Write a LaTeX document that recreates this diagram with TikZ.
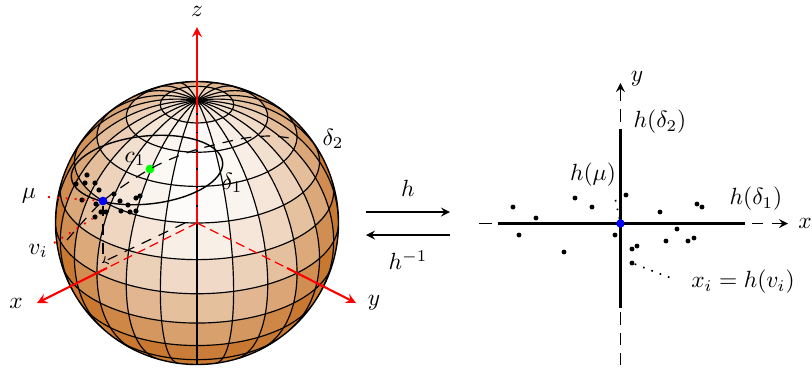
\documentclass[tikz,border=0pt]{standalone}
\definecolor{ballorange}{RGB}{200,120,48}
\definecolor{ptgreen}{RGB}{0,255,0}
\definecolor{ptblue}{RGB}{0,0,255}
\begin{document}
\begin{tikzpicture}[x=0.015cm, y=0.015cm, >=stealth,
          declare function={
            Rs=141.5;
            sx(\a,\l)=Rs*cos(\l)*sin(\a);
            sy(\a,\l)=Rs*(sin(\l)*cos(30)-cos(\l)*cos(\a)*sin(30));
            vis(\a,\l)=cos(\l)*cos(\a)*cos(30)+sin(\l)*sin(30);
            lit(\a,\l)=sin(\l)*sin(50)+cos(\l)*cos(min(180,1.25*abs(\a)))*cos(50);
          },
          grid/.style={black, line width=0.5pt},
          axhid/.style={red, line width=0.8pt, dash pattern=on 7pt off 0.8pt},
          axhidb/.style={red, line width=0.5pt, dash pattern=on 4pt off 2.2pt},
          axsol/.style={->, red, line width=0.9pt},
          geo/.style={black, line width=0.5pt, dash pattern=on 4.5pt off 3.5pt},
          reddots/.style={red, line width=0.8pt, dash pattern=on 0.8pt off 3pt},
          blackdots/.style={black, line width=0.7pt, dash pattern=on 0.7pt off 3.1pt},
          vpt/.style={circle, fill=black, inner sep=0pt, minimum size=2.2pt},
          mpt/.style={circle, fill=ptblue, inner sep=0pt, minimum size=3.6pt},
          cpt/.style={circle, fill=ptgreen, inner sep=0pt, minimum size=3.8pt},
          xpt/.style={circle, fill=black, inner sep=0pt, minimum size=2.1pt},
          planeax/.style={black, line width=0.7pt},
          planesol/.style={black, line width=1pt},
          map/.style={->, line width=0.7pt}]
  \useasboundingbox (-197,-147) rectangle (615,223);
  % ball
  \fill[ballorange] (0,0) circle (Rs);
  \begin{scope}
    \clip (0,0) circle (Rs);
    \foreach \pass in {0,1}
    \foreach \la in {-90,-75,...,75}
    \foreach \az in {-180,-165,...,165} {
      \pgfmathsetmacro\ac{\az+7.5}
      \pgfmathsetmacro\ab{\az+15}
      \pgfmathsetmacro\lc{\la+7.5}
      \pgfmathsetmacro\lb{\la+15}
      \pgfmathsetmacro\vv{vis(\ac,\lc)}
      \pgfmathtruncatemacro\show{(\pass==1 && \vv>=0) || (\pass==0 && \vv<0 && \vv>-0.3) ? 1 : 0}
      \ifnum\show=1
        \pgfmathsetmacro\amt{max(0,min(100,100*(1-lit(\ac,\lc))))}
        \fill[ballorange!\amt!white]
          ({sx(\az,\la)},{sy(\az,\la)}) -- ({sx(\ac,\la)},{sy(\ac,\la)}) -- ({sx(\ab,\la)},{sy(\ab,\la)})
          -- ({sx(\ab,\lc)},{sy(\ab,\lc)}) -- ({sx(\ab,\lb)},{sy(\ab,\lb)}) -- ({sx(\ac,\lb)},{sy(\ac,\lb)})
          -- ({sx(\az,\lb)},{sy(\az,\lb)}) -- ({sx(\az,\lc)},{sy(\az,\lc)}) -- cycle;
      \fi
    }
    % meridians
    \foreach \az in {-180,-165,...,165} {
      \pgfmathsetmacro\lmin{atan(-cos(\az)*cos(30)/sin(30))}
      \draw[grid] plot[domain=\lmin:90, samples=30, smooth] ({sx(\az,\x)},{sy(\az,\x)});
    }
    % parallels
    \foreach \la in {-45,-30,...,45} {
      \pgfmathsetmacro\dmax{acos(-tan(\la)*tan(30))}
      \draw[grid] plot[domain=-\dmax:\dmax, samples=60, smooth] ({sx(\x,\la)},{sy(\x,\la)});
    }
    \foreach \la in {60,75}
      \draw[grid] plot[domain=-180:180, samples=60, smooth] ({sx(\x,\la)},{sy(\x,\la)});
  \end{scope}
  \draw[black, line width=0.6pt] (0,0) circle (Rs);
  % axes of the ball
  \coordinate (O) at (0,0);
  \coordinate (Np) at (0,123);
  \coordinate (Xs) at (-90,-45);
  \coordinate (Ys) at (90,-45);
  \node (zl) at (0,212) {$z$};
  \node (xl) at (-181,-80) {$x$};
  \node (yl) at (177,-80) {$y$};
  \coordinate (Zt) at (0,196);
  \coordinate (Xt) at (-160,-80);
  \coordinate (Yt) at (159,-80);
  \draw[axhid] (O) -- (Np);
  \draw[axhidb] (O) -- (Xs);
  \draw[axhidb] (O) -- (Ys);
  \draw[axsol] (Np) -- (Zt);
  \draw[axsol] (Xs) -- (Xt);
  \draw[axsol] (Ys) -- (Yt);
  % ellipse and geodesics
  \draw[black, line width=0.6pt, rotate around={6:(-50,53)}] (-50,53) ellipse (76 and 34);
  \node[mpt] (mu) at (-94,22) {};
  \node[cpt] (c1) at (-47,54) {};
  \coordinate (dA) at (-130,-17);
  \coordinate (dB) at (100,84);
  \coordinate (dC) at (-94,-39);
  \coordinate (dD) at (-12,0);
  \draw[geo] plot[smooth] coordinates {(dA) (mu) (c1) (-5,72) (43,84) (73,87) (dB)};
  \draw[geo] (mu) -- (dC);
  \draw[geo, ->, >=to] (dD) -- (dC);
  % points on the ball
  \foreach \px/\py [count=\i] in {-110/48,-121/39,-112/40,-102/40,-98/33,-83/29,-115/23,-101/19,-77/22,
      -69/18,-61/25,-57/27,-76/12,-67/11,-61/12,-96/11,-91/11,-102/6}
    \node[vpt] (v\i) at (\px,\py) {};
  \node (mul) at (-168,27) {$\mu$};
  \node (vil) at (-159,-28) {$v_i$};
  \node (c1l) at (-62,64) {$c_1$};
  \node (d1l) at (35,40) {$\delta_1$};
  \node (d2l) at (136,84) {$\delta_2$};
  \coordinate (mud) at (-149,26);
  \coordinate (vid) at (-143,-20);
  \draw[reddots] (mud) -- (mu);
  \draw[reddots] (vid) -- (v18);
  \node[mpt] at (mu) {};
  % the two maps
  \coordinate (mA) at (169,11);
  \coordinate (mB) at (253,11);
  \coordinate (mC) at (253,-12);
  \coordinate (mD) at (169,-12);
  \draw[map] (mA) -- node[above=3pt] {$h$} (mB);
  \draw[map] (mC) -- node[below=3pt] {$h^{-1}$} (mD);
  % tangent plane
  \coordinate (P) at (423.5,-0.5);
  \coordinate (Pl) at (282,-0.5);
  \coordinate (Pr) at (591,-0.5);
  \coordinate (Pt) at (423.5,140);
  \foreach \ya/\yb in {-142/-130,-122/-110,-102/-89,101/114}
    \draw[planeax] (423.5,\ya) -- (423.5,\yb);
  \foreach \xa/\xb in {282/295,555/566}
    \draw[planeax] (\xa,-0.5) -- (\xb,-0.5);
  \draw[->, line width=0.7pt] (423.5,122) -- (Pt);
  \draw[->, line width=0.7pt] (575,-0.5) -- (Pr);
  \draw[planesol] (301,-0.5) -- (548,-0.5);
  \draw[planesol] (423.5,94) -- (423.5,-85);
  \foreach \px/\py [count=\i] in {316/16,339/5,378/25,395/16,429/28,463/11,500/19,505/16,322/-12,
      367/-29,418/-12,435/-26,440/-23,435/-40,469/-18,480/-6,491/-18,497/-15}
    \node[xpt] (x\i) at (\px,\py) {};
  \node[mpt] (hm) at (P) {};
  \node (ypl) at (440,144) {$y$};
  \node (xpl) at (608,0) {$x$};
  \node (hd2) at (463,101) {$h(\delta_2)$};
  \node (hmu) at (396,48) {$h(\mu)$};
  \node (hd1) at (559,24) {$h(\delta_1)$};
  \node (xil) at (546,-59) {$x_i=h(v_i)$};
  \coordinate (hmd) at (417,30);
  \coordinate (xid) at (479,-57);
  \draw[blackdots] (hm) -- (hmd);
  \draw[blackdots] (x14) -- (xid);
\end{tikzpicture}
\end{document}
